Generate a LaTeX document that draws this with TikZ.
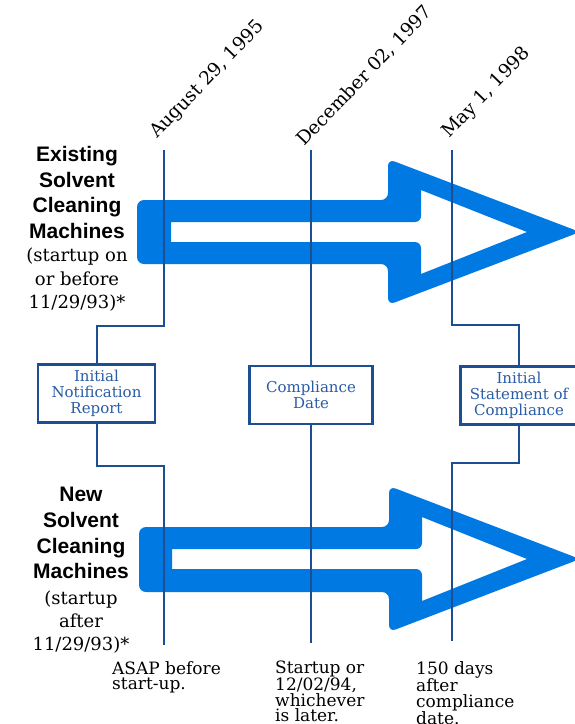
\documentclass[tikz,border=0pt]{standalone}
\usepackage{fontspec}
\setmainfont{DejaVu Serif}
\newfontfamily\headfont{Liberation Sans}
\usetikzlibrary{positioning}
\definecolor{arrowblue}{RGB}{0,122,226}
\definecolor{lineblue}{RGB}{28,78,148}
\definecolor{boxblue}{RGB}{42,92,166}

\begin{document}
\begin{tikzpicture}[x=1pt, y=-1pt,
  tline/.style={lineblue, line width=2pt},
  stage/.style={draw=lineblue, line width=2.4pt, fill=white, text=boxblue, align=center, inner sep=0pt, minimum height=58pt, font=\fontsize{15}{16}\selectfont},
  date/.style={rotate=46, anchor=base west, inner sep=0pt, font=\fontsize{18.6}{18.6}\selectfont},
  heading/.style={align=center, inner sep=0pt, font=\headfont\bfseries\fontsize{21}{25.7}\selectfont},
  note/.style={align=center, inner sep=0pt, font=\fontsize{18}{23.3}\selectfont},
  deadline/.style={align=left, anchor=north west, inner sep=0pt, font=\fontsize{17}{15.5}\selectfont}]

\useasboundingbox (0,0) rectangle (575,724);

\fill[arrowblue, even odd rule, rounded corners=7pt]
  (137,200) -- (388,200) -- (388,159) -- (580,232) -- (388,305) -- (388,264) -- (137,264) -- cycle
  [sharp corners] (171,222) [rounded corners=6pt] -- (421,222) [sharp corners] -- (421,190) -- (527,232) -- (421,274) [rounded corners=6pt] -- (421,242) [sharp corners] -- (171,242) -- cycle;
\fill[arrowblue, even odd rule, rounded corners=7pt]
  (139,527) -- (389,527) -- (389,486) -- (580,559) -- (389,632) -- (389,592) -- (139,592) -- cycle
  [sharp corners] (172,549) [rounded corners=6pt] -- (422,549) [sharp corners] -- (422,517) -- (527,559) -- (422,601) [rounded corners=6pt] -- (422,569) [sharp corners] -- (172,569) -- cycle;

\coordinate (top1) at (164,150);
\coordinate (top2) at (311,150);
\coordinate (top3) at (452,150);
\coordinate (bot1) at (164,645);
\coordinate (bot2) at (311,643);
\coordinate (bot3) at (452,641);

\node[stage, minimum width=117pt] (notify) at (96.5,393.5) {Initial\\Notification\\Report};
\node[stage, minimum width=123pt] (comply) at (311,395) {Compliance\\Date};
\node[stage, minimum width=117pt] (statement) at (519,395.5) {Initial\\Statement of\\Compliance};

\draw[tline] (top1) -- ++(0,176) -| (notify);
\draw[tline] (notify) |- (164,466) -- (bot1);
\draw[tline] (top2) -- (comply) -- (bot2);
\draw[tline] (top3) -- ++(0,175) -| (statement);
\draw[tline] (statement) |- (452,463) -- (bot3);

\node[date] (aug) at (157,139) {August 29, 1995};
\node[date] (dec) at (304,147) {December 02, 1997};
\node[date] (may) at (449,139) {May 1, 1998};

\node[heading, anchor=north] (exist) at (77,146) {Existing\\Solvent\\Cleaning\\Machines};
\node[note, below=9pt of exist] (existnote) {(startup on\\or before\\11/29/93)*};
\node[heading, anchor=north] (new) at (81,487) {New\\Solvent\\Cleaning\\Machines};
\node[note, below=11pt of new] (newnote) {(startup\\after\\11/29/93)*};

\node[deadline] (asap) at (112,661) {ASAP before\\start-up.};
\node[deadline] (startup) at (275,661) {Startup or\\12/02/94,\\whichever\\is later.};
\node[deadline] (days) at (416,661) {150 days\\after\\compliance\\date.};

\end{tikzpicture}
\end{document}
